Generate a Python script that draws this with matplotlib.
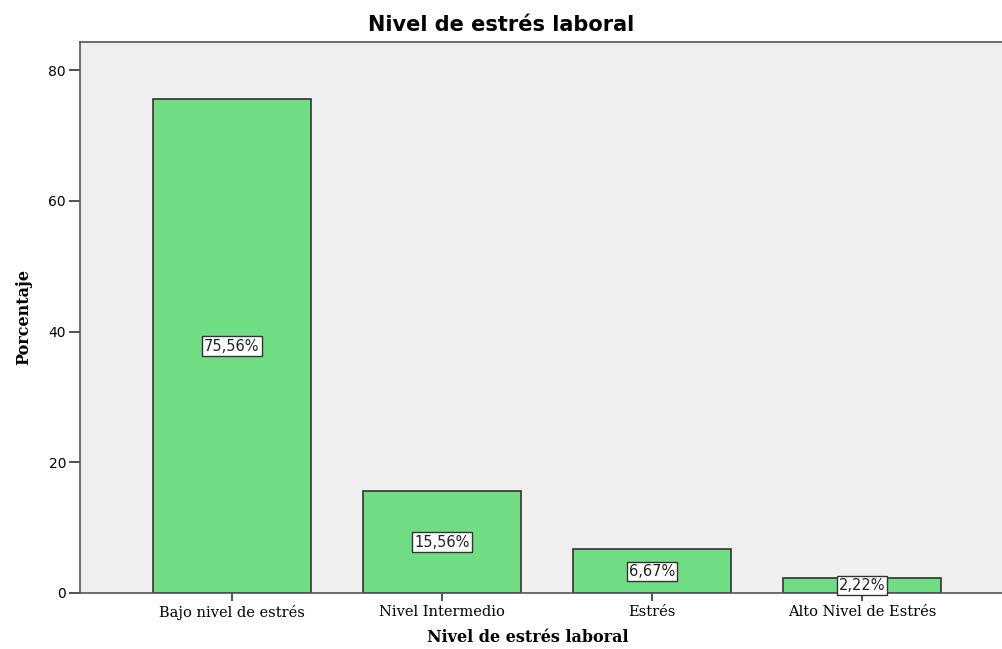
import matplotlib
matplotlib.use('Agg')
import matplotlib.pyplot as plt

categories = ['Bajo nivel de estrés', 'Nivel Intermedio', 'Estrés', 'Alto Nivel de Estrés']
percentages = [75.56, 15.56, 6.67, 2.22]
labels = ['75,56%', '15,56%', '6,67%', '2,22%']

fig = plt.figure(figsize=(10.02, 6.49), dpi=100)
ax = fig.add_axes([0.0798, 0.0863, 0.9202, 0.849])
ax.set_facecolor('#efefef')

x = range(len(categories))
ax.bar(x, percentages, width=0.75, color='#70dc84', edgecolor='#333333', linewidth=1.2, zorder=2)

# value labels in white boxes at half bar height
for xi, v, lab in zip(x, percentages, labels):
    ax.text(xi, v / 2, lab, ha='center', va='center', fontsize=10.5,
            family='DejaVu Sans', color='#222222', zorder=3,
            bbox=dict(boxstyle='square,pad=0.15', facecolor='white', edgecolor='#333333', linewidth=1))

ax.set_xlim(-0.724, 3.667)
ax.set_ylim(0, 84.3)
ax.set_yticks([0, 20, 40, 60, 80])
ax.set_xticks(list(x))
ax.set_xticklabels(categories, family='DejaVu Serif', fontsize=10.5)
ax.tick_params(axis='y', direction='out', length=8, width=1.2, labelsize=10, color='#333333', pad=2)
ax.tick_params(axis='x', direction='out', length=6, width=1.2, color='#333333', pad=3)

for side in ['left', 'top', 'bottom']:
    ax.spines[side].set_color('#555555')
    ax.spines[side].set_linewidth(1.2)
ax.spines['right'].set_visible(False)

ax.set_xlabel('Nivel de estrés laboral', family='DejaVu Serif', fontweight='bold', fontsize=11.5)
ax.xaxis.set_label_coords(0.486, -0.066)
ax.set_ylabel('Porcentaje', family='DejaVu Serif', fontweight='bold', fontsize=11.5, labelpad=12)
fig.text(0.5, 0.961, 'Nivel de estrés laboral', ha='center', va='center', fontsize=15, fontweight='bold', family='DejaVu Sans')

fig.savefig('out.png', dpi=100)
